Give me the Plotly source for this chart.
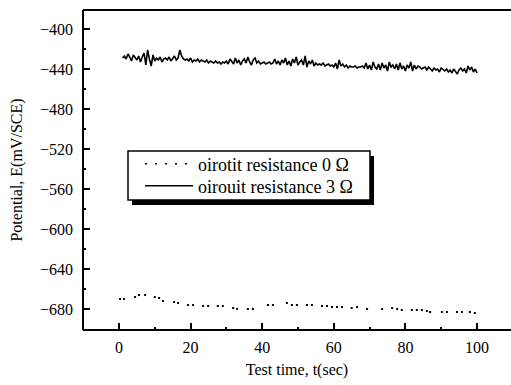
import plotly.graph_objects as go

# ---- data ----
e_solid = [
    -429, -427, -430, -425, -428, -432, -426, -429, -431, -427,
    -433, -428, -424, -436, -421, -430, -437, -426, -432, -429,
    -431, -428, -433, -430, -429, -431, -428, -432, -430, -427,
    -431, -429, -421, -427, -430, -431, -430, -432, -429, -433,
    -431, -432, -430, -433, -431, -432, -433, -431, -434, -432,
    -433, -434, -432, -434, -433, -435, -433, -434, -432, -435,
    -430, -433, -435, -429, -434, -431, -436, -432, -430, -434,
    -428, -433, -436, -431, -429, -434, -432, -435, -434, -433,
    -435, -434, -433, -435, -434, -430, -435, -432, -436, -431,
    -434, -429, -436, -432, -437, -430, -434, -428, -436, -433,
    -431, -436, -427, -438, -432, -435, -431, -437, -434, -436,
    -435, -436, -434, -437, -436, -435, -437, -436, -438, -434,
    -440, -431, -437, -435, -438, -436, -439, -437, -438, -438,
    -437, -439, -438, -438, -437, -439, -434, -440, -436, -441,
    -433, -438, -440, -435, -441, -434, -439, -436, -442, -433,
    -438, -436, -440, -435, -441, -434, -440, -437, -442, -436,
    -439, -433, -442, -436, -440, -437, -438, -440, -439, -438,
    -441, -438, -440, -442, -439, -441, -440, -443, -439, -441,
    -442, -440, -443, -441, -444, -440, -442, -445, -441, -439,
    -442, -440, -444, -437, -441, -438, -443, -440,
    -444,
]
t_solid = [round(1.0 + 0.5 * i, 1) for i in range(len(e_solid))]

t_dot = [0.3, 1.4, 4.5, 5.6, 7.3, 10.0, 11.2, 12.3, 15.4, 16.5, 19.3, 20.7,
         23.5, 24.9, 27.6, 29.0, 31.9, 33.0, 36.0, 37.4, 41.6, 43.0, 46.9,
         48.3, 49.7, 52.5, 53.9, 56.7, 58.1, 59.5, 60.9, 62.3, 65.0, 66.5,
         69.3, 73.5, 76.3, 77.7, 79.0, 81.8, 83.2, 84.6, 86.0, 86.9, 90.2,
         91.6, 94.4, 95.8, 98.0, 99.4]
e_dot = [-670, -670, -668, -666, -666, -668, -669, -672, -673, -674, -676, -676,
         -677, -677, -677, -677, -679, -680, -680, -680, -676, -676, -674,
         -676, -676, -676, -676, -677, -677, -678, -678, -678, -679, -678,
         -680, -680, -679, -680, -681, -681, -681, -681, -682, -683, -683,
         -683, -683, -683, -683, -684]

name_dot = "oirotit resistance 0 Ω"
name_solid = "oirouit resistance 3 Ω"

x_range = [-10.05, 109.5]
y_range = [-701, -381]
x_major = [0, 20, 40, 60, 80, 100]
x_minor = [10, 30, 50, 70, 90]
y_major = [-400, -440, -480, -520, -560, -600, -640, -680]
y_minor = [-420, -460, -500, -540, -580, -620, -660, -700]

FONT = "Liberation Serif"

# plot area geometry in pixels
W, H = 511, 385
L, R, T, B = 83, 0, 10, 55
PW, PH = W - L - R, H - T - B


def px(xp):
    return (xp - L) / PW


def py(yp):
    return (H - B - yp) / PH


fig = go.Figure()
fig.add_trace(go.Scatter(
    x=t_dot, y=e_dot, mode="markers", showlegend=False,
    marker=dict(color="black", size=2, symbol="square"),
))
fig.add_trace(go.Scatter(
    x=[None], y=[None], mode="lines", name=name_dot, legend="legend",
    line=dict(color="black", width=1.5, dash="2px,8px"),
))
fig.add_trace(go.Scatter(
    x=t_solid, y=e_solid, mode="lines", name=name_solid, legend="legend2",
    line=dict(color="black", width=1.6),
))

shapes = [
    # frame: left, bottom, top lines (right axis line is off the picture)
    dict(type="line", xref="paper", yref="paper", x0=0, x1=0, y0=0, y1=1,
         line=dict(color="black", width=2)),
    dict(type="line", xref="paper", yref="paper", x0=0, x1=1, y0=0, y1=0,
         line=dict(color="black", width=2)),
    dict(type="line", xref="paper", yref="paper", x0=0, x1=1, y0=1, y1=1,
         line=dict(color="black", width=2)),
    # legend shadow and box
    dict(type="rect", xref="paper", yref="paper", layer="above",
         x0=px(132), x1=px(374), y0=py(205), y1=py(156),
         fillcolor="black", line=dict(width=0)),
    dict(type="rect", xref="paper", yref="paper", layer="above",
         x0=px(128), x1=px(370), y0=py(200), y1=py(151),
         fillcolor="white", line=dict(color="black", width=1.5)),
]

tick_common = dict(
    showgrid=False, zeroline=False, showline=False,
    ticks="inside", ticklen=7, tickwidth=2, tickcolor="black",
    tickfont=dict(family=FONT, size=16, color="black"),
)
xminor = dict(tickvals=x_minor, ticklen=3, tickwidth=2,
              tickcolor="black", ticks="inside")
yminor = dict(tickvals=y_minor, ticklen=3, tickwidth=2,
              tickcolor="black", ticks="inside")

legend_common = dict(
    xanchor="left", yanchor="middle",
    bgcolor="rgba(0,0,0,0)", borderwidth=0,
    font=dict(family=FONT, size=18, color="black"),
    itemwidth=48,
)

fig.update_layout(
    width=W, height=H,
    margin=dict(l=L, r=R, t=T, b=B, autoexpand=False),
    paper_bgcolor="white", plot_bgcolor="white",
    font=dict(family=FONT, size=16, color="black"),
    shapes=shapes,
    showlegend=True,
    legend=dict(x=px(140), y=py(164), **legend_common),
    legend2=dict(x=px(140), y=py(186), **legend_common),
    xaxis=dict(
        range=x_range, tickvals=x_major, ticktext=[str(v) for v in x_major],
        minor=xminor, ticklabelstandoff=6,
        title=dict(text="Test time, t(sec)", standoff=8,
                   font=dict(family=FONT, size=16)),
        **tick_common,
    ),
    xaxis2=dict(
        range=x_range, overlaying="x", side="top", anchor="y",
        tickvals=x_major, showticklabels=False, minor=xminor,
        **tick_common,
    ),
    yaxis=dict(
        range=y_range, tickvals=y_major,
        ticktext=["\u2212" + str(-v) for v in y_major],
        minor=yminor, ticklabelstandoff=9,
        title=dict(text="Potential, E(mV/SCE)", standoff=13,
                   font=dict(family=FONT, size=16)),
        **tick_common,
    ),
    yaxis2=dict(
        range=y_range, overlaying="y", side="right", anchor="x",
        tickvals=y_major, showticklabels=False, minor=yminor,
        **tick_common,
    ),
)

fig.write_html(
    "out.html",
    config={"displayModeBar": False},
    post_script="document.body.style.margin='0';document.body.style.overflow='hidden';",
)
